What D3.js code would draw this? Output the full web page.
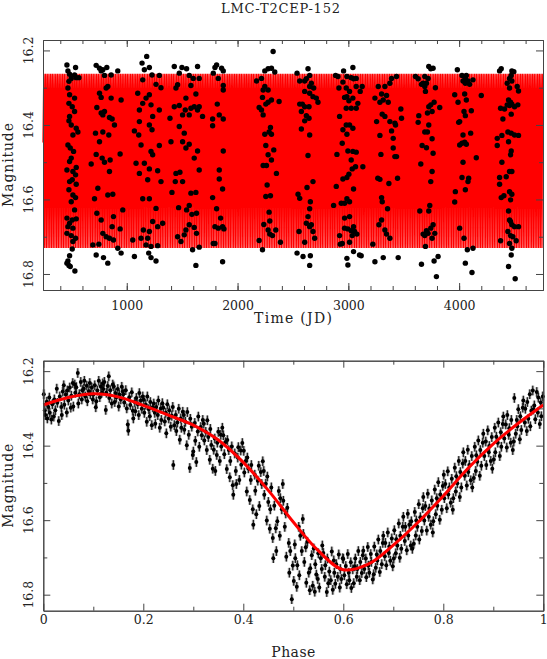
<!DOCTYPE html>
<html>
<head>
<meta charset="utf-8">
<script src="https://cdn.jsdelivr.net/npm/d3@7"></script>
<style>
  body { margin: 0; background: #fff; }
  text { font-family: "DejaVu Serif", serif; fill: #222; }
</style>
</head>
<body>
<div id="chart"></div>
<script>
var title = "LMC-T2CEP-152";

var timeSeries = [
  [460,16.239],[469,16.255],[538,16.246],[484,16.264],[529,16.266],[544,16.273],[568,16.273],[499,16.275],[478,16.283],[469,16.301],
  [484,16.319],[529,16.328],[478,16.342],[508,16.351],[529,16.364],[484,16.377],[478,16.389],[499,16.400],[544,16.409],[559,16.419],
  [514,16.427],[469,16.454],[490,16.462],[520,16.471],[499,16.489],[484,16.498],[544,16.514],[460,16.521],[514,16.525],[538,16.534],
  [508,16.547],[484,16.552],[544,16.559],[478,16.574],[514,16.588],[538,16.595],[499,16.606],[529,16.628],[460,16.650],[508,16.655],
  [544,16.652],[484,16.664],[469,16.673],[514,16.677],[460,16.691],[499,16.697],[538,16.704],[514,16.713],[508,16.733],[484,16.751],
  [469,16.765],[460,16.771],[478,16.777],[490,16.780],[532,16.792],
  [724,16.240],[754,16.248],[784,16.252],[820,16.246],[769,16.255],[919,16.255],[799,16.267],[859,16.266],[829,16.297],[814,16.301],
  [754,16.315],[769,16.326],[859,16.328],[949,16.333],[730,16.353],[769,16.368],[799,16.364],[784,16.373],[844,16.380],[868,16.384],
  [889,16.400],[718,16.422],[784,16.419],[838,16.427],[754,16.445],[724,16.479],[778,16.489],[799,16.500],[850,16.494],[940,16.478],
  [679,16.505],[844,16.525],[739,16.570],[874,16.586],[829,16.588],[709,16.598],[964,16.628],[730,16.637],[880,16.646],[769,16.655],
  [868,16.673],[940,16.679],[784,16.691],[814,16.700],[844,16.704],[880,16.709],[694,16.722],[748,16.720],[919,16.731],[724,16.749],
  [949,16.744],[790,16.756],[829,16.771],
  [1138,16.234],[1180,16.216],[1204,16.246],[1159,16.252],[1228,16.266],[1144,16.279],[1294,16.267],[1309,16.300],[1264,16.291],[1099,16.315],
  [1204,16.319],[1174,16.328],[1144,16.342],[1114,16.360],[1219,16.346],[1294,16.360],[1234,16.377],[1114,16.391],[1204,16.400],[1228,16.413],
  [1069,16.416],[1108,16.427],[1129,16.454],[1294,16.455],[1219,16.471],[1234,16.480],[1084,16.503],[1159,16.503],[1204,16.518],[1279,16.523],
  [1114,16.530],[1189,16.547],[1309,16.552],[1144,16.598],[1204,16.598],[1264,16.624],[1324,16.664],[1234,16.659],[1150,16.682],[1204,16.686],
  [1279,16.673],[1189,16.704],[1054,16.709],[1129,16.704],[1174,16.722],[1219,16.726],[1279,16.724],[1069,16.753],[1198,16.744],[1219,16.756],
  [1264,16.765],
  [1429,16.243],[1498,16.246],[1540,16.249],[1639,16.243],[1474,16.261],[1564,16.267],[1600,16.275],[1654,16.275],[1459,16.292],[1579,16.294],
  [1624,16.317],[1444,16.301],[1534,16.328],[1429,16.351],[1474,16.348],[1579,16.355],[1654,16.351],[1528,16.360],[1504,16.373],[1564,16.373],
  [1609,16.351],[1639,16.360],[1684,16.377],[1390,16.382],[1474,16.404],[1519,16.422],[1399,16.445],[1504,16.445],[1564,16.452],[1534,16.462],
  [1639,16.470],[1609,16.489],[1444,16.530],[1480,16.527],[1654,16.521],[1438,16.552],[1504,16.552],[1408,16.581],[1579,16.583],[1624,16.581],
  [1468,16.622],[1564,16.616],[1540,16.628],[1588,16.640],[1630,16.637],[1564,16.668],[1609,16.675],[1534,16.682],[1459,16.700],[1519,16.695],
  [1489,16.713],[1630,16.691],[1594,16.735],[1654,16.728],[1624,16.777],
  [1811,16.239],[1796,16.246],[1856,16.248],[1871,16.255],[1826,16.275],[1781,16.261],[1871,16.294],[1871,16.306],[1817,16.344],[1835,16.373],
  [1871,16.384],[1775,16.384],[1775,16.402],[1871,16.470],[1835,16.521],[1835,16.545],[1865,16.572],[1775,16.595],[1811,16.625],[1847,16.650],
  [1796,16.673],[1826,16.677],[1865,16.673],[1877,16.679],[1781,16.718],[1796,16.718],[1865,16.767],
  [2321,16.203],[2246,16.255],[2276,16.249],[2306,16.248],[2336,16.258],[2171,16.282],[2216,16.275],[2246,16.297],[2231,16.306],[2276,16.306],
  [2225,16.326],[2276,16.339],[2306,16.333],[2255,16.344],[2375,16.337],[2195,16.353],[2216,16.360],[2231,16.373],[2297,16.407],[2285,16.419],
  [2246,16.425],[2306,16.425],[2255,16.455],[2327,16.467],[2276,16.480],[2306,16.494],[2231,16.509],[2261,16.509],[2351,16.530],[2267,16.561],
  [2297,16.590],[2255,16.592],[2285,16.634],[2291,16.658],[2237,16.667],[2276,16.682],[2345,16.682],[2291,16.693],[2315,16.697],[2195,16.710],
  [2387,16.715],[2225,16.735],
  [2537,16.261],[2636,16.249],[2651,16.267],[2561,16.282],[2606,16.282],[2621,16.276],[2666,16.288],[2651,16.297],[2687,16.301],[2606,16.310],
  [2651,16.315],[2681,16.324],[2711,16.328],[2726,16.339],[2585,16.344],[2561,16.344],[2606,16.351],[2645,16.351],[2576,16.364],[2621,16.375],
  [2645,16.382],[2606,16.389],[2576,16.411],[2651,16.427],[2636,16.482],[2681,16.552],[2627,16.568],[2546,16.586],[2561,16.597],[2657,16.606],
  [2651,16.625],[2636,16.646],[2666,16.668],[2621,16.664],[2651,16.673],[2681,16.686],[2696,16.704],[2555,16.686],[2606,16.715],[2537,16.744],
  [2591,16.753],[2657,16.751],[2651,16.777],
  [2885,16.267],[2906,16.270],[2957,16.255],[3041,16.246],[2987,16.270],[3026,16.273],[3047,16.276],[3071,16.275],[2951,16.285],[2915,16.301],
  [2981,16.301],[3011,16.310],[3071,16.297],[3107,16.310],[3125,16.297],[2987,16.324],[2966,16.326],[3041,16.328],[3005,16.335],[3086,16.342],
  [3071,16.355],[2981,16.355],[3026,16.355],[2921,16.377],[2981,16.400],[3011,16.400],[3041,16.409],[2951,16.413],[2987,16.425],[2945,16.449],
  [2897,16.479],[2996,16.470],[3041,16.471],[3071,16.473],[3026,16.494],[3065,16.512],[3131,16.512],[3035,16.518],[3005,16.532],[2951,16.545],
  [2987,16.541],[2891,16.565],[3047,16.572],[2987,16.598],[2966,16.610],[2936,16.610],[2867,16.616],[3011,16.606],[2966,16.650],[3011,16.646],
  [3047,16.673],[2966,16.677],[2996,16.679],[3026,16.684],[3056,16.686],[3035,16.697],[3077,16.693],[2921,16.697],[2945,16.718],[2927,16.720],
  [3011,16.715],[3047,16.740],[3101,16.749],[3116,16.751],[2987,16.758],[2996,16.776],
  [3270,16.297],[3330,16.297],[3375,16.288],[3390,16.275],[3435,16.270],[3300,16.317],[3345,16.321],[3360,16.339],[3285,16.339],[3315,16.333],
  [3240,16.328],[3255,16.391],[3306,16.371],[3330,16.377],[3375,16.391],[3420,16.395],[3426,16.400],[3474,16.357],[3480,16.382],[3285,16.428],
  [3390,16.416],[3405,16.436],[3405,16.462],[3420,16.485],[3435,16.485],[3294,16.479],[3285,16.546],[3444,16.543],[3366,16.557],[3300,16.595],
  [3306,16.606],[3354,16.625],[3300,16.655],[3276,16.668],[3330,16.682],[3345,16.693],[3375,16.704],[3315,16.756],[3240,16.767],[3450,16.756],
  [3221,16.720],[3266,16.543],
  [3726,16.243],[3744,16.249],[3765,16.248],[3606,16.270],[3630,16.276],[3690,16.270],[3720,16.275],[3675,16.288],[3705,16.288],[3690,16.297],
  [3660,16.291],[3786,16.300],[3696,16.310],[3774,16.339],[3744,16.346],[3726,16.351],[3825,16.353],[3756,16.364],[3714,16.368],[3636,16.375],
  [3630,16.393],[3726,16.400],[3714,16.419],[3690,16.419],[3756,16.437],[3666,16.455],[3705,16.461],[3765,16.476],[3654,16.505],[3756,16.525],
  [3744,16.552],[3645,16.631],[3735,16.616],[3726,16.631],[3765,16.668],[3744,16.677],[3705,16.684],[3720,16.691],[3675,16.693],[3780,16.691],
  [3690,16.697],[3756,16.704],[3696,16.726],[3810,16.753],[3774,16.765],[3660,16.774],[3795,16.807],
  [3984,16.252],[4026,16.267],[4065,16.267],[4056,16.275],[4080,16.282],[4125,16.279],[4035,16.282],[4095,16.291],[4056,16.288],[3960,16.319],
  [4050,16.317],[4200,16.321],[4065,16.333],[3990,16.339],[4110,16.362],[4044,16.364],[4056,16.375],[4005,16.391],[3996,16.393],[4104,16.422],
  [4035,16.427],[4026,16.449],[4005,16.454],[4050,16.446],[4065,16.452],[4155,16.488],[4035,16.500],[4026,16.541],[4086,16.543],[4080,16.552],
  [4056,16.574],[3966,16.579],[3960,16.607],[4005,16.677],[4044,16.704],[4074,16.735],[4125,16.731],[4056,16.771],[4116,16.796],
  [4365,16.255],[4380,16.249],[4476,16.255],[4494,16.257],[4470,16.267],[4455,16.275],[4476,16.282],[4434,16.288],[4524,16.297],[4536,16.309],
  [4455,16.301],[4446,16.333],[4464,16.339],[4476,16.344],[4434,16.346],[4374,16.355],[4410,16.357],[4455,16.348],[4470,16.371],[4500,16.351],
  [4530,16.346],[4395,16.384],[4440,16.419],[4470,16.422],[4386,16.428],[4500,16.427],[4344,16.436],[4446,16.445],[4344,16.455],[4536,16.428],
  [4470,16.470],[4464,16.480],[4386,16.500],[4425,16.539],[4365,16.541],[4455,16.525],[4476,16.525],[4365,16.559],[4455,16.579],[4476,16.586],
  [4380,16.595],[4404,16.590],[4464,16.601],[4446,16.631],[4455,16.655],[4464,16.659],[4476,16.668],[4500,16.673],[4536,16.673],[4440,16.686],
  [4464,16.697],[4485,16.700],[4455,16.718],[4374,16.711],[4476,16.731],[4515,16.711],[4470,16.749],[4446,16.780],[4506,16.813]
];

// phased points, [phase, magnitude]
var phased = [
  [.001,16.262],[.003,16.305],[.004,16.318],[.007,16.282],[.008,16.327],[.010,16.296],[.012,16.271],[.013,16.312],[.016,16.330],[.018,16.289],
  [.039,16.255],[.037,16.318],[.036,16.296],[.033,16.268],[.031,16.334],[.028,16.285],[.027,16.247],[.024,16.305],[.022,16.276],[.021,16.322],
  [.041,16.238],[.042,16.290],[.045,16.263],[.047,16.311],[.048,16.252],[.050,16.279],[.053,16.244],[.055,16.298],[.056,16.266],[.059,16.232],
  [.078,16.251],[.077,16.276],[.075,16.229],[.072,16.262],[.069,16.205],[.070,16.287],[.066,16.243],[.064,16.258],[.063,16.236],[.060,16.295],
  [.081,16.247],[.082,16.226],[.084,16.268],[.087,16.239],[.088,16.281],[.091,16.254],[.093,16.232],[.094,16.262],[.097,16.244],[.099,16.276],
  [.119,16.233],[.117,16.258],[.105,16.297],[.115,16.241],[.113,16.270],[.111,16.226],[.108,16.252],[.106,16.281],[.103,16.238],[.100,16.263],
  [.120,16.248],[.122,16.229],[.125,16.304],[.126,16.258],[.129,16.240],[.131,16.214],[.132,16.272],[.134,16.251],[.137,16.287],[.139,16.236],
  [.159,16.255],[.157,16.242],[.155,16.276],[.152,16.263],[.151,16.295],[.149,16.248],[.146,16.270],[.144,16.259],[.143,16.283],[.141,16.241],
  [.160,16.262],[.162,16.284],[.165,16.251],[.167,16.300],[.169,16.343],[.170,16.360],[.172,16.270],[.174,16.291],[.177,16.257],[.179,16.306],
  [.199,16.268],[.197,16.301],[.195,16.279],[.192,16.259],[.191,16.318],[.189,16.289],[.186,16.272],[.184,16.308],[.183,16.283],[.180,16.327],
  [.201,16.277],[.202,16.312],[.205,16.290],[.207,16.336],[.208,16.268],[.211,16.302],[.213,16.321],[.214,16.283],[.217,16.345],[.219,16.297],
  [.238,16.286],[.236,16.331],[.235,16.300],[.233,16.352],[.230,16.279],[.229,16.318],[.226,16.296],[.224,16.341],[.223,16.312],[.221,16.287],
  [.240,16.298],[.243,16.335],[.245,16.312],[.246,16.367],[.248,16.289],[.251,16.327],[.252,16.305],[.255,16.349],[.257,16.320],[.259,16.296],
  [.279,16.309],[.276,16.352],[.275,16.327],[.273,16.384],[.271,16.301],[.268,16.338],[.266,16.361],[.265,16.318],[.262,16.345],[.260,16.452],
  [.281,16.318],[.282,16.357],[.284,16.336],[.287,16.399],[.288,16.310],[.291,16.371],[.293,16.460],[.294,16.328],[.297,16.349],[.299,16.425],
  [.319,16.331],[.317,16.372],[.315,16.350],[.312,16.403],[.310,16.322],[.309,16.362],[.306,16.444],[.304,16.387],[.303,16.339],[.300,16.416],
  [.321,16.341],[.322,16.386],[.325,16.363],[.327,16.412],[.328,16.332],[.330,16.377],[.333,16.438],[.334,16.355],[.336,16.398],[.339,16.462],
  [.358,16.352],[.356,16.402],[.355,16.371],[.353,16.441],[.350,16.363],[.348,16.392],[.347,16.425],[.344,16.468],[.343,16.381],[.341,16.411],
  [.360,16.372],[.362,16.423],[.364,16.391],[.367,16.463],[.368,16.385],[.371,16.412],[.373,16.485],[.374,16.441],[.377,16.402],[.379,16.506],
  [.398,16.393],[.396,16.451],[.395,16.413],[.392,16.492],[.390,16.404],[.389,16.432],[.386,16.503],[.385,16.468],[.383,16.421],[.380,16.532],
  [.401,16.414],[.402,16.472],[.405,16.441],[.407,16.523],[.408,16.432],[.410,16.461],[.413,16.546],[.415,16.492],[.416,16.452],[.419,16.571],
  [.439,16.442],[.437,16.503],[.435,16.471],[.432,16.562],[.431,16.454],[.429,16.494],[.426,16.584],[.424,16.521],[.423,16.478],[.420,16.612],
  [.441,16.468],[.442,16.532],[.445,16.502],[.447,16.601],[.448,16.483],[.450,16.551],[.453,16.623],[.454,16.571],[.456,16.512],[.459,16.648],
  [.479,16.503],[.477,16.571],[.474,16.541],[.473,16.642],[.471,16.522],[.468,16.603],[.466,16.683],[.465,16.622],[.462,16.561],[.460,16.702],
  [.480,16.548],[.483,16.618],[.485,16.582],[.486,16.698],[.488,16.567],[.491,16.661],[.492,16.741],[.494,16.683],[.497,16.812],[.499,16.722],
  [.519,16.597],[.517,16.683],[.514,16.642],[.512,16.748],[.511,16.618],[.508,16.721],[.507,16.779],[.504,16.702],[.503,16.665],[.501,16.763],
  [.520,16.637],[.522,16.712],[.525,16.673],[.526,16.768],[.528,16.658],[.531,16.741],[.533,16.788],[.534,16.729],[.537,16.694],[.539,16.776],
  [.558,16.668],[.557,16.731],[.555,16.702],[.552,16.781],[.550,16.689],[.549,16.758],[.546,16.746],[.544,16.718],[.543,16.792],[.541,16.676],
  [.560,16.688],[.563,16.752],[.564,16.721],[.567,16.793],[.568,16.703],[.570,16.769],[.572,16.738],[.575,16.761],[.577,16.684],[.579,16.787],
  [.599,16.702],[.596,16.758],[.594,16.731],[.593,16.781],[.591,16.692],[.589,16.752],[.586,16.718],[.584,16.771],[.582,16.741],[.581,16.708],
  [.600,16.704],[.602,16.748],[.605,16.723],[.607,16.772],[.609,16.691],[.611,16.741],[.612,16.761],[.615,16.713],[.616,16.782],[.619,16.732],
  [.639,16.694],[.637,16.742],[.634,16.712],[.633,16.761],[.630,16.683],[.628,16.731],[.627,16.752],[.624,16.703],[.623,16.724],[.621,16.769],
  [.640,16.682],[.642,16.731],[.645,16.703],[.646,16.753],[.649,16.672],[.650,16.722],[.652,16.741],[.655,16.691],[.656,16.712],[.659,16.759],
  [.679,16.661],[.677,16.718],[.674,16.683],[.673,16.739],[.670,16.652],[.668,16.708],[.667,16.692],[.665,16.728],[.662,16.671],[.661,16.745],
  [.680,16.642],[.683,16.697],[.684,16.661],[.686,16.721],[.689,16.633],[.691,16.688],[.692,16.671],[.694,16.709],[.697,16.649],[.699,16.724],
  [.719,16.618],[.716,16.677],[.714,16.642],[.713,16.701],[.711,16.609],[.708,16.668],[.706,16.651],[.705,16.689],[.702,16.627],[.701,16.703],
  [.720,16.591],[.723,16.656],[.724,16.618],[.727,16.681],[.729,16.583],[.730,16.641],[.732,16.612],[.735,16.668],[.736,16.603],[.738,16.677],
  [.759,16.568],[.757,16.629],[.754,16.592],[.752,16.652],[.751,16.557],[.748,16.618],[.746,16.601],[.745,16.641],[.743,16.578],[.741,16.663],
  [.760,16.538],[.762,16.601],[.764,16.562],[.767,16.628],[.769,16.529],[.771,16.591],[.772,16.569],[.775,16.612],[.777,16.547],[.779,16.633],
  [.799,16.508],[.797,16.572],[.794,16.531],[.793,16.599],[.790,16.498],[.788,16.561],[.787,16.541],[.785,16.584],[.783,16.518],[.780,16.603],
  [.801,16.478],[.802,16.541],[.804,16.503],[.807,16.568],[.809,16.469],[.810,16.531],[.812,16.512],[.815,16.553],[.817,16.489],[.819,16.572],
  [.839,16.448],[.836,16.512],[.834,16.471],[.833,16.538],[.831,16.441],[.828,16.501],[.826,16.482],[.825,16.523],[.823,16.459],[.820,16.541],
  [.840,16.418],[.843,16.481],[.844,16.441],[.847,16.507],[.849,16.411],[.850,16.471],[.852,16.452],[.855,16.493],[.857,16.428],[.858,16.512],
  [.879,16.392],[.876,16.454],[.874,16.412],[.873,16.481],[.870,16.386],[.868,16.443],[.866,16.426],[.865,16.468],[.863,16.403],[.861,16.487],
  [.880,16.368],[.882,16.428],[.885,16.389],[.886,16.452],[.889,16.359],[.891,16.418],[.892,16.401],[.895,16.441],[.897,16.377],[.898,16.462],
  [.919,16.342],[.916,16.403],[.915,16.364],[.913,16.428],[.910,16.338],[.909,16.392],[.906,16.376],[.904,16.418],[.903,16.352],[.901,16.437],
  [.920,16.322],[.922,16.381],[.925,16.343],[.927,16.405],[.928,16.318],[.931,16.371],[.932,16.353],[.935,16.392],[.936,16.331],[.939,16.412],
  [.959,16.298],[.956,16.358],[.954,16.321],[.953,16.383],[.950,16.302],[.948,16.348],[.947,16.331],[.945,16.368],[.942,16.272],[.941,16.389],
  [.960,16.279],[.963,16.338],[.964,16.301],[.967,16.361],[.968,16.283],[.970,16.328],[.973,16.262],[.974,16.348],[.976,16.306],[.979,16.252],
  [.999,16.268],[.996,16.321],[.995,16.284],[.993,16.342],[.990,16.271],[.989,16.311],[.987,16.256],[.984,16.329],[.982,16.292],[.980,16.303]
];
var magErr = 0.013;

// fitted light curve
var fitPhase = [0, 0.05, 0.10, 0.15, 0.20, 0.25, 0.30, 0.35, 0.40, 0.45, 0.50, 0.55, 0.60, 0.65, 0.70, 0.75, 0.80, 0.85, 0.90, 0.95, 1.00];
var fitMag   = [16.291, 16.271, 16.261, 16.269, 16.292, 16.318, 16.345, 16.385, 16.445, 16.520, 16.605, 16.682, 16.733, 16.718, 16.667, 16.605, 16.535, 16.460, 16.395, 16.340, 16.291];
var period = 15.37, epoch = 250;

var timeMajor = [1000, 2000, 3000, 4000];
var timeMinor = d3.range(400, 4800, 200);
var phaseMajor = [0, 0.2, 0.4, 0.6, 0.8, 1];
var phaseMinor = [0.1, 0.3, 0.5, 0.7, 0.9];
var magMajor = [16.2, 16.4, 16.6, 16.8];
var magMinor = [16.3, 16.5, 16.7];

var W = 547, H = 659;
var svg = d3.select("#chart").append("svg").attr("width", W).attr("height", H);
svg.append("rect").attr("width", W).attr("height", H).attr("fill", "#fff");

svg.append("text").attr("x", 280.5).attr("y", 12.7).attr("text-anchor", "middle")
  .attr("font-size", 13).attr("textLength", 119).attr("lengthAdjust", "spacing").text(title);

var xT = d3.scaleLinear().domain([244, 4757]).range([43, 543]);
var yT = d3.scaleLinear().domain([16.172, 16.843]).range([40, 290]);
var xP = d3.scaleLinear().domain([0, 1]).range([43.3, 543.3]);
var yP = d3.scaleLinear().domain([16.172, 16.843]).range([360.7, 610.7]);

var fitScale = d3.scaleLinear().domain(fitPhase).range(fitMag);

function panel(x, y, xMajor, xMinor, fmt, xlabel, pad, labelY, labelLen) {
  var g = svg.append("g");
  var x0 = x.range()[0], x1 = x.range()[1], y0 = y.range()[0], y1 = y.range()[1];
  var ax = [
    [d3.axisBottom(x).tickValues(xMinor).tickSize(-4), y1],
    [d3.axisTop(x).tickValues(xMinor).tickSize(-4), y0],
    [d3.axisBottom(x).tickValues(xMajor).tickSize(-7), y1],
    [d3.axisTop(x).tickValues(xMajor).tickSize(-7), y0]
  ];
  ax.forEach(function (a, i) {
    var s = g.append("g").attr("transform", "translate(0," + a[1] + ")")
      .call(a[0].tickSizeOuter(0).tickFormat(i == 2 ? fmt : "").tickPadding(pad));
    s.selectAll("line, path").attr("stroke", "#444");
    s.attr("font-family", null).attr("font-size", null);
    s.selectAll("text").attr("font-size", 12.5).attr("fill", "#222");
  });
  var ay = [
    [d3.axisLeft(y).tickValues(magMinor).tickSize(-4), x0],
    [d3.axisRight(y).tickValues(magMinor).tickSize(-4), x1],
    [d3.axisLeft(y).tickValues(magMajor).tickSize(-7), x0],
    [d3.axisRight(y).tickValues(magMajor).tickSize(-7), x1]
  ];
  ay.forEach(function (a) {
    var s = g.append("g").attr("transform", "translate(" + a[1] + ",0)")
      .call(a[0].tickSizeOuter(0).tickFormat(""));
    s.selectAll("line, path").attr("stroke", "#444");
  });
  g.selectAll(".ylab").data(magMajor).enter().append("text")
    .attr("class", "ylab")
    .attr("transform", function (d) { return "translate(33," + y(d) + ") rotate(-90)"; })
    .attr("text-anchor", "middle").attr("font-size", 12.5)
    .text(function (d) { return d3.format(".1f")(d); });
  g.append("text")
    .attr("transform", "translate(13," + ((y0 + y1) / 2) + ") rotate(-90)")
    .attr("text-anchor", "middle").attr("font-size", 14)
    .attr("textLength", 84).attr("lengthAdjust", "spacing").text("Magnitude");
  g.append("text").attr("x", (x0 + x1) / 2).attr("y", labelY)
    .attr("text-anchor", "middle").attr("font-size", 14)
    .attr("textLength", labelLen).attr("lengthAdjust", "spacing").text(xlabel);
  return g;
}

// top panel: model sampled along time, then the observations
var modelT = d3.range(xT.domain()[0], xT.domain()[1], period / 24).map(function (t) {
  var ph = ((t - epoch) / period) % 1;
  return [t, fitScale(ph)];
});
svg.append("path").datum(modelT)
  .attr("d", d3.line().x(function (d) { return xT(d[0]); }).y(function (d) { return yT(d[1]); }))
  .attr("fill", "none").attr("stroke", "#ff0000").attr("stroke-width", 1.3);

svg.append("g").selectAll("circle").data(timeSeries).enter().append("circle")
  .attr("cx", function (d) { return xT(d[0]); })
  .attr("cy", function (d) { return yT(d[1]); })
  .attr("r", 2.7).attr("fill", "#000");

panel(xT, yT, timeMajor, timeMinor, d3.format("d"), "Time (JD)", 11, 323, 78);

// bottom panel: phased points with error bars, then the fit
var pts = svg.append("g");
pts.selectAll("line.halo").data(phased).enter().append("line")
  .attr("x1", function (d) { return xP(d[0]); }).attr("x2", function (d) { return xP(d[0]); })
  .attr("y1", function (d) { return yP(d[1] - magErr); }).attr("y2", function (d) { return yP(d[1] + magErr); })
  .attr("stroke", "#bbb").attr("stroke-width", 3);
pts.selectAll("line.bar").data(phased).enter().append("line")
  .attr("x1", function (d) { return xP(d[0]); }).attr("x2", function (d) { return xP(d[0]); })
  .attr("y1", function (d) { return yP(d[1] - magErr); }).attr("y2", function (d) { return yP(d[1] + magErr); })
  .attr("stroke", "#000").attr("stroke-width", 1);
pts.selectAll("circle").data(phased).enter().append("circle")
  .attr("cx", function (d) { return xP(d[0]); })
  .attr("cy", function (d) { return yP(d[1]); })
  .attr("r", 2).attr("fill", "#000");

svg.append("path").datum(d3.zip(fitPhase, fitMag))
  .attr("d", d3.line().curve(d3.curveCatmullRom).x(function (d) { return xP(d[0]); }).y(function (d) { return yP(d[1]); }))
  .attr("fill", "none").attr("stroke", "#ff0000").attr("stroke-width", 3);

panel(xP, yP, phaseMajor, phaseMinor, function (d) { return d === 0 || d === 1 ? d : d3.format(".1f")(d); }, "Phase", 4, 657, 44);
</script>
</body>
</html>
